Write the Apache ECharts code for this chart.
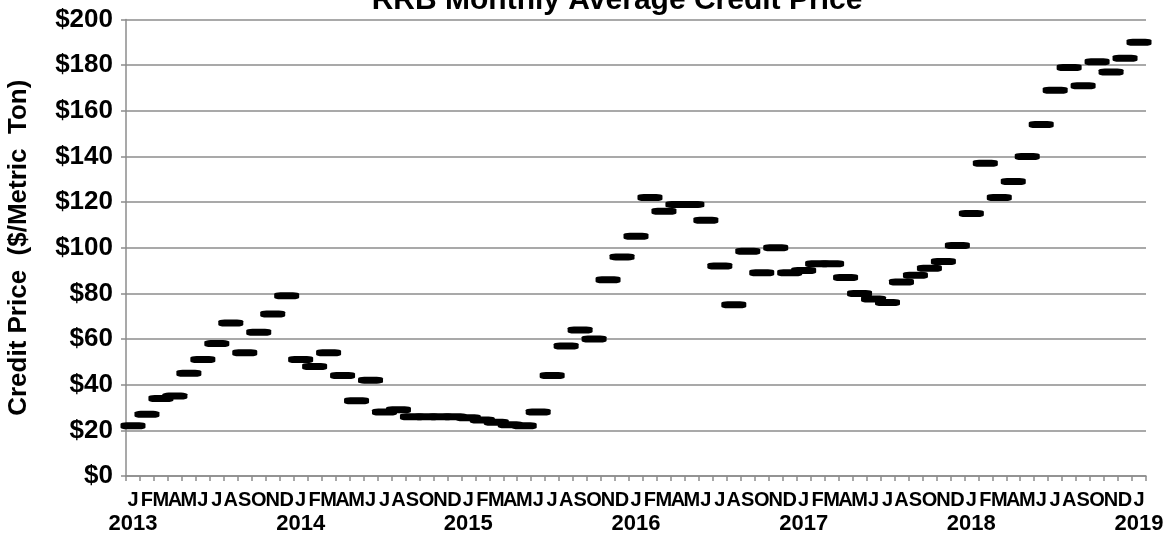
<!DOCTYPE html>
<html lang="en">
<head>
    <meta charset="UTF-8">
    <title>RRB Monthly Average Credit Price</title>
    <script src="https://cdn.jsdelivr.net/npm/echarts@6.0.0/dist/echarts.min.js"></script>
    <style>
        html, body { margin: 0; padding: 0; background: #fff; }
    </style>
</head>
<body>
    <div id="main" style="width: 1165px;height:539px;"></div>

    <script>
        // month letters and years for the x axis
        var monthLetters = ['J', 'F', 'M', 'A', 'M', 'J', 'J', 'A', 'S', 'O', 'N', 'D'];
        var years = [2013, 2014, 2015, 2016, 2017, 2018, 2019];

        // monthly average credit price, Jan 2013 .. Jan 2019
        var prices = [
            22, 27, 34, 35, 45, 51, 58, 67, 54, 63, 71, 79,          // 2013
            51, 48, 54, 44, 33, 42, 28, 29, 26, 26, 26, 26,          // 2014
            25.5, 24.5, 23.5, 22.5, 22, 28, 44, 57, 64, 60, 86, 96,  // 2015
            105, 122, 116, 119, 119, 112, 92, 75, 98.5, 89, 100, 89, // 2016
            90, 93, 93, 87, 80, 77.5, 76, 85, 88, 91, 94, 101,       // 2017
            115, 137, 122, 129, 140, 154, 169, 179, 171, 181.5, 177, 183, // 2018
            190                                                       // 2019
        ];

        var yTicks = { min: 0, max: 200, interval: 20 };

        // one category per month
        var categories = [];
        for (var i = 0; i < prices.length; i++) {
            var y = years[Math.floor(i / 12)];
            categories.push(y + '-' + (i % 12 + 1));
        }

        var myChart = echarts.init(document.getElementById('main'));
        var font = 'Liberation Sans, Arial, sans-serif';

        var option = {
            animation: false,
            title: {
                text: 'RRB Monthly Average Credit Price',
                left: 612,
                textAlign: 'center',
                top: -19,
                textStyle: { fontFamily: font, fontWeight: 'bold', fontSize: 30, color: '#000' }
            },
            grid: { left: 126, right: 19, top: 19.5, bottom: 63, containLabel: false, outerBoundsMode: 'none' },
            xAxis: {
                type: 'category',
                data: categories,
                boundaryGap: true,
                axisLine: { lineStyle: { color: '#8c8c8c', width: 1.5 } },
                axisTick: { show: true, length: 5, interval: 0, lineStyle: { color: '#8c8c8c', width: 1.5 } },
                axisLabel: {
                    interval: 0,
                    margin: 12,
                    formatter: function (value, idx) {
                        var m = monthLetters[idx % 12];
                        if (idx % 12 === 0) {
                            return '{m|' + m + '}\n{y|' + years[Math.floor(idx / 12)] + '}';
                        }
                        return '{m|' + m + '}';
                    },
                    rich: {
                        m: { fontFamily: font, fontWeight: 'bold', fontSize: 20, lineHeight: 24, color: '#000' },
                        y: { fontFamily: font, fontWeight: 'bold', fontSize: 22, lineHeight: 24, color: '#000' }
                    }
                },
                splitLine: { show: false }
            },
            yAxis: {
                type: 'value',
                min: yTicks.min,
                max: yTicks.max,
                interval: yTicks.interval,
                name: 'Credit Price  ($/Metric  Ton)',
                nameLocation: 'middle',
                nameGap: 94,
                nameTextStyle: { fontFamily: font, fontWeight: 'bold', fontSize: 26, color: '#000' },
                axisLine: { show: true, lineStyle: { color: '#8c8c8c', width: 1.5 } },
                axisTick: { show: true, length: 5, lineStyle: { color: '#8c8c8c', width: 1.5 } },
                axisLabel: {
                    margin: 13,
                    formatter: '${value}',
                    fontFamily: font,
                    fontWeight: 'bold',
                    fontSize: 26,
                    color: '#000'
                },
                splitLine: { lineStyle: { color: '#8c8c8c', width: 1.5 } }
            },
            series: [
                {
                    type: 'scatter',
                    data: prices,
                    symbol: 'roundRect',
                    symbolSize: [25, 7],
                    itemStyle: { color: '#000', opacity: 1 },
                    z: 5
                }
            ]
        };

        myChart.setOption(option);
    </script>
</body>
</html>
